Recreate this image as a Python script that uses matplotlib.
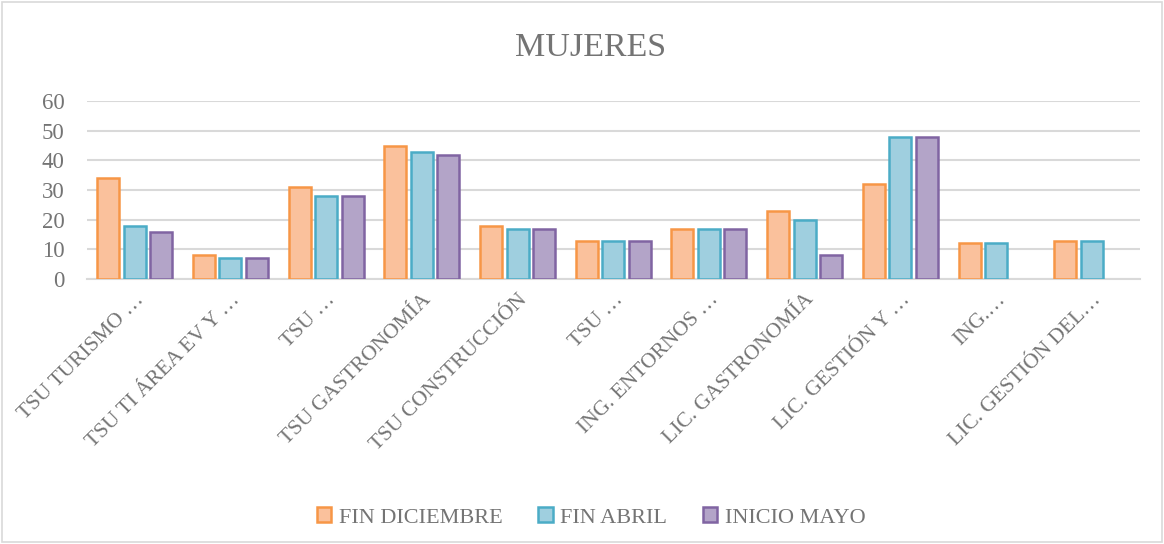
import matplotlib
matplotlib.use("Agg")
import matplotlib.pyplot as plt
import numpy as np

categories = [
    "TSU TURISMO …",
    "TSU TI ÁREA EV Y …",
    "TSU …",
    "TSU GASTRONOMÍA",
    "TSU CONSTRUCCIÓN",
    "TSU …",
    "ING. ENTORNOS …",
    "LIC. GASTRONOMÍA",
    "LIC. GESTIÓN Y …",
    "ING.…",
    "LIC. GESTIÓN DEL…",
]
fin_diciembre = [34, 8, 31, 45, 18, 13, 17, 23, 32, 12, 13]
fin_abril = [18, 7, 28, 43, 17, 13, 17, 20, 48, 12, 13]
inicio_mayo = [16, 7, 28, 42, 17, 13, 17, 8, 48, np.nan, np.nan]

series = [
    ("FIN DICIEMBRE", fin_diciembre, "#FAC19C", "#F79646"),
    ("FIN ABRIL", fin_abril, "#9FCFDF", "#4BACC6"),
    ("INICIO MAYO", inicio_mayo, "#B3A4C8", "#8064A2"),
]

plt.rcParams["font.family"] = ["Liberation Serif", "DejaVu Serif"]
text_color = "#747474"

fig = plt.figure(figsize=(11.64, 5.44), dpi=100)
ax = fig.add_axes([0.0747, 0.487, 0.9043, 0.327])

x = np.arange(len(categories))
width = 0.23
offsets = [-0.277, 0, 0.277]
for (label, values, face, edge), off in zip(series, offsets):
    ax.bar(x + off, values, width, color=face, edgecolor=edge, linewidth=1.8,
           label=label, zorder=3)

ax.set_xlim(-0.5, len(categories) - 0.5)
ax.set_ylim(0, 60)
ax.set_yticks(range(0, 61, 10))
ax.yaxis.grid(True, color="#D9D9D9", linewidth=1.5, zorder=0)
ax.set_axisbelow(True)
for side in ["left", "right", "top"]:
    ax.spines[side].set_visible(False)
ax.spines["bottom"].set_color("#D9D9D9")
ax.spines["bottom"].set_linewidth(1.5)
ax.tick_params(axis="both", length=0, colors=text_color)
ax.tick_params(axis="y", pad=16, labelsize=16.5)
ax.set_xticks(x)
ax.set_xticklabels(categories, rotation=45, ha="right", rotation_mode="anchor",
                   fontsize=15.5, color=text_color)
ax.tick_params(axis="x", pad=8)

fig.text(0.507, 0.913, "MUJERES", ha="center", va="center", fontsize=24.5,
         color=text_color)

ax.legend(loc="center", bbox_to_anchor=(0.479, -1.34), ncol=3, frameon=False,
          fontsize=16, labelcolor=text_color, handlelength=0.65, handleheight=0.65,
          handletextpad=0.35, columnspacing=1.6)

fig.patches.append(plt.Rectangle((0.002, 0.003), 0.996, 0.994, transform=fig.transFigure,
                                 fill=False, edgecolor="#D9D9D9", linewidth=1.2))

fig.savefig("out.png", dpi=100)
